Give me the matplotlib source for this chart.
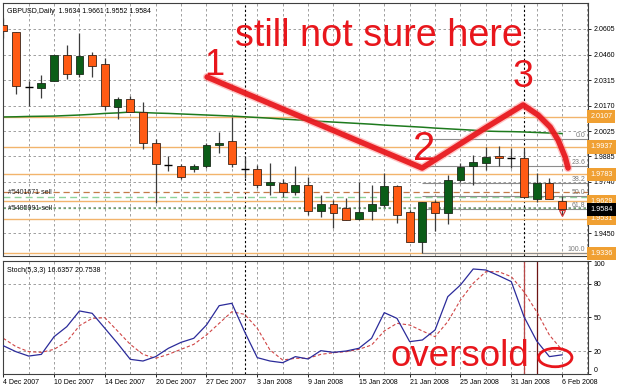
import numpy as np
import matplotlib
matplotlib.use('Agg')
import matplotlib.pyplot as plt
import matplotlib.transforms as mtransforms
import matplotlib.patheffects as pe
from matplotlib.patches import Ellipse

plt.rcParams['font.family'] = ['Liberation Sans', 'DejaVu Sans']

dates = ['4 Dec 2007', '5 Dec 2007', '6 Dec 2007', '7 Dec 2007', '10 Dec 2007',
         '11 Dec 2007', '12 Dec 2007', '13 Dec 2007', '14 Dec 2007', '17 Dec 2007',
         '18 Dec 2007', '19 Dec 2007', '20 Dec 2007', '21 Dec 2007', '24 Dec 2007',
         '26 Dec 2007', '27 Dec 2007', '28 Dec 2007', '31 Dec 2007', '2 Jan 2008',
         '3 Jan 2008', '4 Jan 2008', '7 Jan 2008', '8 Jan 2008', '9 Jan 2008',
         '10 Jan 2008', '11 Jan 2008', '14 Jan 2008', '15 Jan 2008', '16 Jan 2008',
         '17 Jan 2008', '18 Jan 2008', '21 Jan 2008', '22 Jan 2008', '23 Jan 2008',
         '24 Jan 2008', '25 Jan 2008', '28 Jan 2008', '29 Jan 2008', '30 Jan 2008',
         '31 Jan 2008', '1 Feb 2008', '4 Feb 2008', '5 Feb 2008', '6 Feb 2008']

opens = [2.0628, 2.0588, 2.0277, 2.0271, 2.0311, 2.0458, 2.0350, 2.0458, 2.0407, 2.0163,
         2.0209, 2.0135, 1.9960, 1.9835, 1.9829, 1.9812, 1.9829, 1.9948, 1.9971, 1.9812,
         1.9812, 1.9722, 1.9733, 1.9682, 1.9722, 1.9574, 1.9614, 1.9591, 1.9529, 1.9574,
         1.9608, 1.9716, 1.9569, 1.9399, 1.9625, 1.9563, 1.9750, 1.9829, 1.9846, 1.9886,
         1.9875, 1.9875, 1.9642, 1.9733, 1.9634]
highs = [2.0667, 2.0588, 2.0311, 2.0345, 2.0458, 2.0514, 2.0582, 2.0475, 2.0441, 2.0220,
         2.0226, 2.0192, 1.9982, 1.9886, 1.9841, 1.9841, 1.9960, 2.0022, 2.0107, 1.9880,
         1.9835, 1.9846, 1.9756, 1.9829, 1.9767, 1.9665, 1.9637, 1.9648, 1.9739, 1.9722,
         1.9790, 1.9722, 1.9580, 1.9625, 1.9637, 1.9778, 1.9846, 1.9892, 1.9937, 1.9942,
         1.9931, 1.9925, 1.9790, 1.9761, 1.9661]
lows = [2.0554, 2.0237, 2.0169, 2.0214, 2.0311, 2.0322, 2.0333, 2.0333, 2.0146, 2.0095,
        2.0135, 1.9925, 1.9620, 1.9801, 1.9756, 1.9795, 1.9818, 1.9903, 1.9824, 1.9761,
        1.9705, 1.9665, 1.9654, 1.9665, 1.9552, 1.9541, 1.9478, 1.9523, 1.9523, 1.9523,
        1.9597, 1.9506, 1.9399, 1.9337, 1.9461, 1.9501, 1.9739, 1.9722, 1.9807, 1.9829,
        1.9818, 1.9654, 1.9625, 1.9642, 1.9552]
closes = [2.0594, 2.0282, 2.0277, 2.0299, 2.0458, 2.0350, 2.0452, 2.0395, 2.0169, 2.0209,
          2.0135, 1.9960, 1.9841, 1.9835, 1.9767, 1.9829, 1.9948, 1.9960, 1.9841, 1.9812,
          1.9722, 1.9739, 1.9682, 1.9722, 1.9574, 1.9614, 1.9563, 1.9523, 1.9569, 1.9614,
          1.9716, 1.9552, 1.9399, 1.9625, 1.9563, 1.9750, 1.9824, 1.9852, 1.9880, 1.9875,
          1.9875, 1.9654, 1.9733, 1.9642, 1.9584]

# gleitender Durchschnitt (gruene Linie)
ma = [2.0107, 2.0108, 2.0110, 2.0111, 2.0112, 2.0115, 2.0118, 2.0122, 2.0127, 2.0130,
      2.0135, 2.0132, 2.0129, 2.0127, 2.0124, 2.0121, 2.0118, 2.0115, 2.0112, 2.0108,
      2.0104, 2.0100, 2.0095, 2.0091, 2.0087, 2.0082, 2.0078, 2.0074, 2.0070, 2.0066,
      2.0061, 2.0057, 2.0053, 2.0049, 2.0044, 2.0040, 2.0036, 2.0032, 2.0027, 2.0025,
      2.0024, 2.0022, 2.0019, 2.0016, 2.0013]

# Stochastik (5,3,3)
stoch_k = [24.7, 19.4, 15.5, 17.0, 32.7, 41.6, 55.6, 53.5, 40.2, 26.8,
           12.6, 11.1, 15.0, 22.4, 27.7, 31.3, 43.1, 60.3, 62.4, 37.2,
           14.1, 11.1, 9.6, 15.0, 12.9, 20.3, 18.8, 20.0, 22.4, 31.3,
           54.1, 49.0, 28.3, 29.8, 38.7, 68.3, 78.7, 92.9, 92.0, 87.0,
           81.7, 50.5, 28.9, 15.0, 16.6]
stoch_d = [31.3, 23.9, 19.4, 18.8, 21.5, 28.3, 42.5, 49.0, 49.6, 37.8,
           25.9, 17.0, 13.5, 17.0, 21.5, 25.9, 34.2, 44.6, 54.9, 52.6,
           40.2, 20.9, 12.0, 13.5, 13.5, 17.0, 18.5, 19.4, 21.5, 25.3,
           37.8, 44.6, 43.1, 37.8, 32.7, 46.1, 65.3, 80.2, 90.5, 90.5,
           86.1, 72.7, 54.9, 34.2, 20.8]

# horizontale Linien
levels = [2.0107, 1.9937, 1.9783, 1.9629, 1.9531, 1.9336]
orders = [('#5401671 sell', 1.9682), ('#5495991 sell', 1.9591)]
order_sl = 1.9654
fib_high, fib_low, fib_start = 1.9982, 1.9337, 33
fib_ratios = [0.0, 23.6, 38.2, 50.0, 61.8, 100.0]

price_ticks = [2.0605, 2.0460, 2.0315, 2.0170, 2.0025, 1.9885, 1.9740, 1.9595, 1.9450]
stoch_ticks = [0, 20, 50, 80, 100]

# Handzeichnung (Index, Preis)
path_x = [16.05, 32.98, 37.94, 40.93, 42.11, 43.06, 43.69, 44.24, 44.47]
path_y = [2.0333, 1.9818, 2.0044, 2.0175, 2.0118, 2.0050, 1.9976, 1.9880, 1.9818]

red = '#e8161c'
orange_line = '#f2b46c'
orange_box = '#f0a032'
grid_col = '#909090'

x = np.arange(len(dates))
o, h, l, c = map(np.array, (opens, highs, lows, closes))
xlim = (-0.02, 46.04)

fig = plt.figure(figsize=(6.25, 3.9), dpi=100)
ax = fig.add_axes([3 / 625, 1 - 256 / 390, 585 / 625, 253 / 390])
ax2 = fig.add_axes([3 / 625, 1 - 373.5 / 390, 585 / 625, 112.5 / 390])

for a in (ax, ax2):
    a.set_xlim(*xlim)
    for s in a.spines.values():
        s.set_color('#404040')
        s.set_linewidth(0.8)
    for gx in range(2, 47, 2):
        a.axvline(gx, color=grid_col, lw=0.6, ls=(0, (3, 3)), zorder=0.5)
    # Monatstrenner
    for i in range(1, len(dates)):
        if dates[i].split()[1] != dates[i - 1].split()[1]:
            a.axvline(i, color='black', lw=0.8, ls=(0, (2, 2)), zorder=0.6)

# --- Hauptchart ---
ax.set_ylim(1.9320, 2.0752)
for t in price_ticks:
    ax.axhline(t, color=grid_col, lw=0.6, ls=(0, (3, 3)), zorder=0.5)
ax.set_xticks([])
ax.yaxis.tick_right()
ax.set_yticks(price_ticks)
ax.set_yticklabels(['' if t == 1.9595 else f'{t:.4f}' for t in price_ticks])
ax.tick_params(axis='y', labelsize=5, length=2.5, width=0.6, pad=1.5, colors='black')

trans = mtransforms.blended_transform_factory(ax.transAxes, ax.transData)

for lv in levels:
    ax.axhline(lv, color=orange_line, lw=1.0, zorder=1.5)
    ax.text(1.004, lv, f'{lv:.4f}', transform=trans, fontsize=5.2, color='white',
            ha='left', va='center', clip_on=False, zorder=6,
            bbox=dict(boxstyle='square,pad=0.42', fc=orange_box, ec='none'))

# Orderlinien
ax.axhline(orders[0][1], color='#c47a48', lw=0.9, ls=(0, (5, 3)), zorder=1.6)
ax.axhline(order_sl, color='#8fd39b', lw=1.0, ls=(0, (5, 3)), zorder=1.6)
ax.axhline(orders[1][1], color='#6aa86a', lw=0.9, ls=(0, (2, 2)), zorder=1.6)
for name, lv in orders:
    ax.text(0.4, lv, name, fontsize=5, color='#222222', ha='left', va='center', zorder=2)

# Fibonacci
for r in fib_ratios:
    lv = fib_high - r / 100 * (fib_high - fib_low)
    ax.hlines(lv, fib_start, xlim[1], color='#8c8c8c', lw=0.8, zorder=1.7)
    ax.text(xlim[1] - 0.2, lv, f'{r:.1f}', fontsize=5, color='#7a7a7a',
            ha='right', va='bottom', zorder=2)

ax.plot(x, ma, color='#1d7a1d', lw=1.1, zorder=2)

# Kerzen
ax.vlines(x, l, h, color='#3c3c3c', lw=0.9, zorder=3)
doji = np.abs(c - o) < 0.0003
bull = (c > o) & ~doji
bear = (c < o) & ~doji
w = 0.62
ax.bar(x[bull], (c - o)[bull], bottom=o[bull], width=w, color='#0b5d18',
       edgecolor='#1a2a1a', lw=0.6, zorder=4)
ax.bar(x[bear], (o - c)[bear], bottom=c[bear], width=w, color='#ff5b14',
       edgecolor='#3a2418', lw=0.6, zorder=4)
ax.hlines(c[doji], x[doji] - w / 2, x[doji] + w / 2, color='black', lw=1.0, zorder=4)
ax.plot(x[-1], 1.9563, marker='v', ms=4, mfc='none', mec='#d03030', mew=0.8, zorder=5)

# aktueller Kurs
ax.text(1.004, closes[-1], f'{closes[-1]:.4f}', transform=trans, fontsize=5.2,
        color='white', ha='left', va='center', clip_on=False, zorder=7,
        bbox=dict(boxstyle='square,pad=0.42', fc='black', ec='none'))

ax.text(0.006, 0.965, 'GBPUSD,Daily  %.4f %.4f %.4f %.4f' % (opens[-1], highs[-1], lows[-1], closes[-1]),
        transform=ax.transAxes, fontsize=5, color='black', va='center', ha='left', zorder=6)

# Anmerkungen
ax.plot(path_x, path_y, color=red, lw=4.0, alpha=0.92, solid_capstyle='round',
        solid_joinstyle='round', zorder=8,
        path_effects=[pe.Stroke(linewidth=6, foreground='#ff8080', alpha=0.45), pe.Normal()])
ax.text(18.25, 2.0509, 'still not sure here', fontsize=27.2, color=red, va='baseline', zorder=9)
ax.text(16.6, 2.0345, '1', fontsize=26, color=red, ha='center', va='baseline', zorder=9)
ax.text(33.13, 1.9863, '2', fontsize=29, color=red, ha='center', va='baseline', zorder=9)
ax.text(40.93, 2.0277, '3', fontsize=27, color=red, ha='center', va='baseline', zorder=9)

# --- Stochastik ---
ax2.set_ylim(0, 100)
for t in (20, 50, 80):
    ax2.axhline(t, color=grid_col, lw=0.6, ls=(0, (3, 3)), zorder=0.5)
ax2.axvline(41, color='#b84848', lw=0.9, zorder=1)
ax2.axvline(42, color='#6e1414', lw=0.9, zorder=1)
ax2.plot(x, stoch_k, color='#2b2b9a', lw=0.9, zorder=3)
ax2.plot(x, stoch_d, color='#d04545', lw=0.8, ls=(0, (3, 2)), zorder=2)
ax2.yaxis.tick_right()
ax2.set_yticks(stoch_ticks)
ax2.set_yticklabels([str(t) for t in stoch_ticks])
ax2.tick_params(axis='y', labelsize=5, length=2.5, width=0.6, pad=1.5)
lbls = ax2.get_yticklabels()
lbls[0].set_va('bottom')
lbls[-1].set_va('top')
ax2.set_xticks(x[::4])
ax2.set_xticklabels(dates[::4], ha='left')
ax2.tick_params(axis='x', labelsize=5, length=2, width=0.6, pad=2)
ax2.text(0.006, 0.92, 'Stoch(5,3,3) %.4f %.4f' % (16.6357, 20.7538),
         transform=ax2.transAxes, fontsize=5, va='center', ha='left')

ax2.text(30.46, 6.7, 'oversold', fontsize=26.5, color=red, va='baseline', zorder=9)
ax2.add_patch(Ellipse((43.46, 14.2), 2.63, 16.4, fill=False, ec=red, lw=2.0, zorder=9))

fig.savefig('out.png', dpi=100, facecolor='white')
